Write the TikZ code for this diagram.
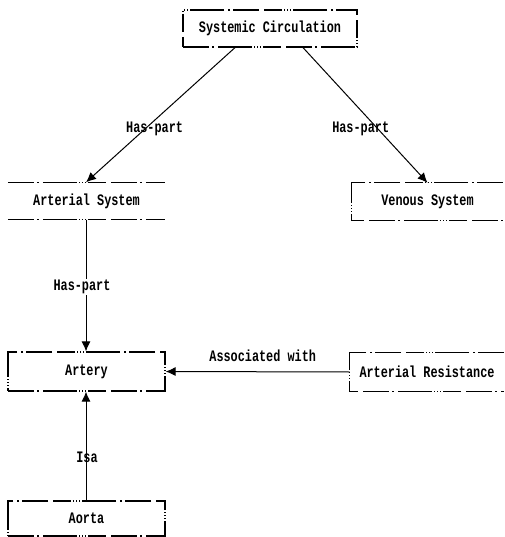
\documentclass[tikz,border=0pt]{standalone}
\usepackage{fontspec}
\setmonofont{Liberation Mono}[FakeStretch=0.74]
\usetikzlibrary{arrows.meta}
\begin{document}
\begin{tikzpicture}[x=1pt,y=-1pt,
  lbl/.style={font=\ttfamily\bfseries\fontsize{16}{18}\selectfont, inner sep=1pt},
  scan/.style={line width=1.2pt, dash pattern=on 26pt off 3pt on 2pt off 4pt on 34pt off 2pt on 1pt off 2pt on 1pt off 2pt on 1pt off 2pt on 18pt off 5pt},
  box/.style={lbl, draw, scan},
  rel/.style={line width=1pt, -{Latex[length=10pt,width=9pt]}}]
\path[fill=white] (0,0) rectangle (504,537);
\useasboundingbox (0,0) rectangle (504,537);
% concept boxes
\node[box, minimum width=174pt, minimum height=37pt] (sys) at (270,28.5) {Systemic Circulation};
\node[lbl, minimum width=157pt, minimum height=37pt] (as) at (86.5,201) {Arterial System};
\draw[scan] (as.north west) -- (as.north east);
\draw[scan] (as.south west) -- (as.south east);
\node[lbl, minimum width=151pt, minimum height=37pt] (vs) at (427.5,201.5) {Venous System};
\draw[scan] (vs.north east) -- (vs.north west) -- (vs.south west) -- (vs.south east);
\node[box, minimum width=157pt, minimum height=39pt] (artery) at (86.5,371.5) {Artery};
\node[lbl, minimum width=154pt, minimum height=38pt] (ar) at (427,372) {Arterial Resistance};
\draw[scan] (ar.north east) -- (ar.north west) -- (ar.south west) -- (ar.south east);
\node[box, minimum width=157pt, minimum height=35pt] (aorta) at (86.5,518.5) {Aorta};
% relations
\draw[rel] ([xshift=-35pt]sys.south) -- ([xshift=-0.5pt]as.north)
  node[lbl, pos=0.6, xshift=9pt] {Has-part};
\draw[rel] ([xshift=33pt]sys.south) -- (vs.north)
  node[lbl, pos=0.6, xshift=-17pt] {Has-part};
\draw[rel] ([xshift=-0.5pt]as.south) -- ([xshift=-0.5pt]artery.north)
  node[lbl, pos=0.51, xshift=-4pt, fill=white] {Has-part};
\draw[rel] ([xshift=-0.5pt]aorta.north) -- ([xshift=-0.5pt]artery.south)
  node[lbl, pos=0.4, xshift=1pt] {Isa};
\draw[rel] (ar.west) -- (artery.east)
  node[lbl, midway, above=9pt, xshift=5pt] {Associated with};
\end{tikzpicture}
\end{document}
